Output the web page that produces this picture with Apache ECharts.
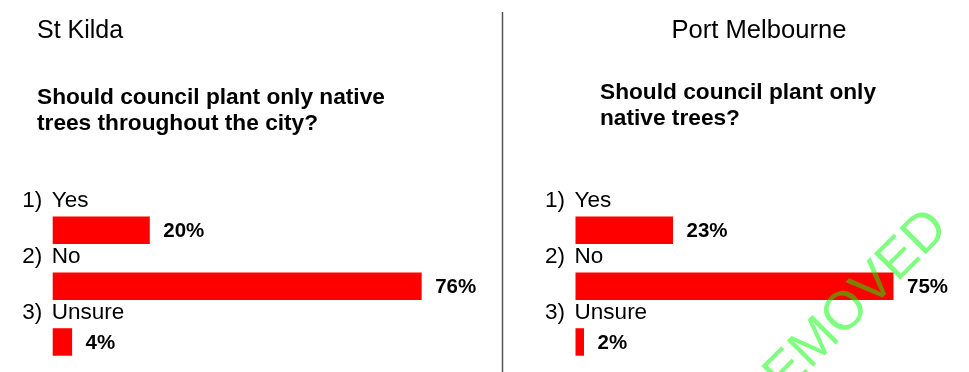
<!DOCTYPE html>
<html>
<head>
<meta charset="utf-8">
<script src="https://cdn.jsdelivr.net/npm/echarts@6/dist/echarts.min.js"></script>
<style>
html,body{margin:0;padding:0;background:#fff;}
#chart{width:969px;height:372px;}
</style>
</head>
<body>
<div id="chart"></div>
<script>
// ---- data ----
const numbers = ['1)', '2)', '3)'];
const categories = ['Yes', 'No', 'Unsure'];
const stKildaValues = [20, 76, 4];
const portMelbourneValues = [23, 75, 2];
const panelTitles = ['St Kilda', 'Port Melbourne'];
const questions = ['Should council plant only native\ntrees throughout the city?', 'Should council plant only\nnative trees?'];
const watermark = 'REMOVED';

const FONT = '"Liberation Sans", Arial, sans-serif';
const catLabels = categories.map((c, i) => numbers[i] + '|' + c);

function yAxisFor(gridIndex) {
  return {
    type: 'category', gridIndex: gridIndex, inverse: true, data: catLabels,
    axisLine: {show: false}, axisTick: {show: false}, splitLine: {show: false},
    axisLabel: {
      show: true, interval: 0, hideOverlap: false, margin: 30.4, align: 'left', verticalAlign: 'bottom',
      lineHeight: 59,
      formatter: function (v) { const p = v.split('|'); return '{n|' + p[0] + '}{t|' + p[1] + '}'; },
      rich: {
        n: {width: 29.5, fontSize: 22.5, fontFamily: FONT, color: '#000', lineHeight: 59},
        t: {fontSize: 22.5, fontFamily: FONT, color: '#000', lineHeight: 59}
      }
    }
  };
}
function xAxisFor(gridIndex, max) {
  return {type: 'value', gridIndex: gridIndex, min: 0, max: max, show: false, splitLine: {show: false}};
}
function seriesFor(idx, values) {
  return {
    type: 'bar', xAxisIndex: idx, yAxisIndex: idx, data: values, barWidth: 27.5,
    itemStyle: {color: '#ff0000'},
    label: {
      show: true, position: 'right', distance: 13.5, offset: [0, 1],
      formatter: '{c}%', fontFamily: FONT, fontWeight: 'bold', fontSize: 20.5, color: '#000'
    },
    silent: true, animation: false
  };
}

const chart = echarts.init(document.getElementById('chart'), null, {renderer: 'canvas'});
chart.setOption({
  backgroundColor: '#ffffff',
  animation: false,
  title: [
    {text: panelTitles[0], left: 37, top: 18.8, padding: 0,
      textStyle: {fontFamily: FONT, fontWeight: 'normal', fontSize: 25, lineHeight: 25, color: '#000'}},
    {text: panelTitles[1], left: 671.5, top: 18.8, padding: 0,
      textStyle: {fontFamily: FONT, fontWeight: 'normal', fontSize: 25.6, lineHeight: 25, color: '#000'}},
    {text: questions[0], left: 37, top: 85.2, padding: 0,
      textStyle: {fontFamily: FONT, fontWeight: 'bold', fontSize: 22.7, lineHeight: 26, color: '#000'}},
    {text: questions[1], left: 600, top: 80.2, padding: 0,
      textStyle: {fontFamily: FONT, fontWeight: 'bold', fontSize: 22.7, lineHeight: 26, color: '#000'}}
  ],
  grid: [
    {left: 52.7, top: 202.4, width: 485.5, height: 167.5, containLabel: false},
    {left: 575.5, top: 202.4, width: 381.6, height: 167.5, containLabel: false}
  ],
  xAxis: [xAxisFor(0, 100), xAxisFor(1, 90)],
  yAxis: [yAxisFor(0), yAxisFor(1)],
  series: [seriesFor(0, stKildaValues), seriesFor(1, portMelbourneValues)],
  graphic: [
    {type: 'line', shape: {x1: 502.5, y1: 12, x2: 502.5, y2: 372},
      style: {stroke: '#555', lineWidth: 1.5}, silent: true},
    {type: 'text', x: 843, y: 316, rotation: Math.PI / 4, z: 100, silent: true,
      style: {text: watermark, fontFamily: FONT, fontSize: 54, fill: 'rgba(0,255,0,0.5)',
        align: 'center', verticalAlign: 'middle'}}
  ]
});
</script>
</body>
</html>
